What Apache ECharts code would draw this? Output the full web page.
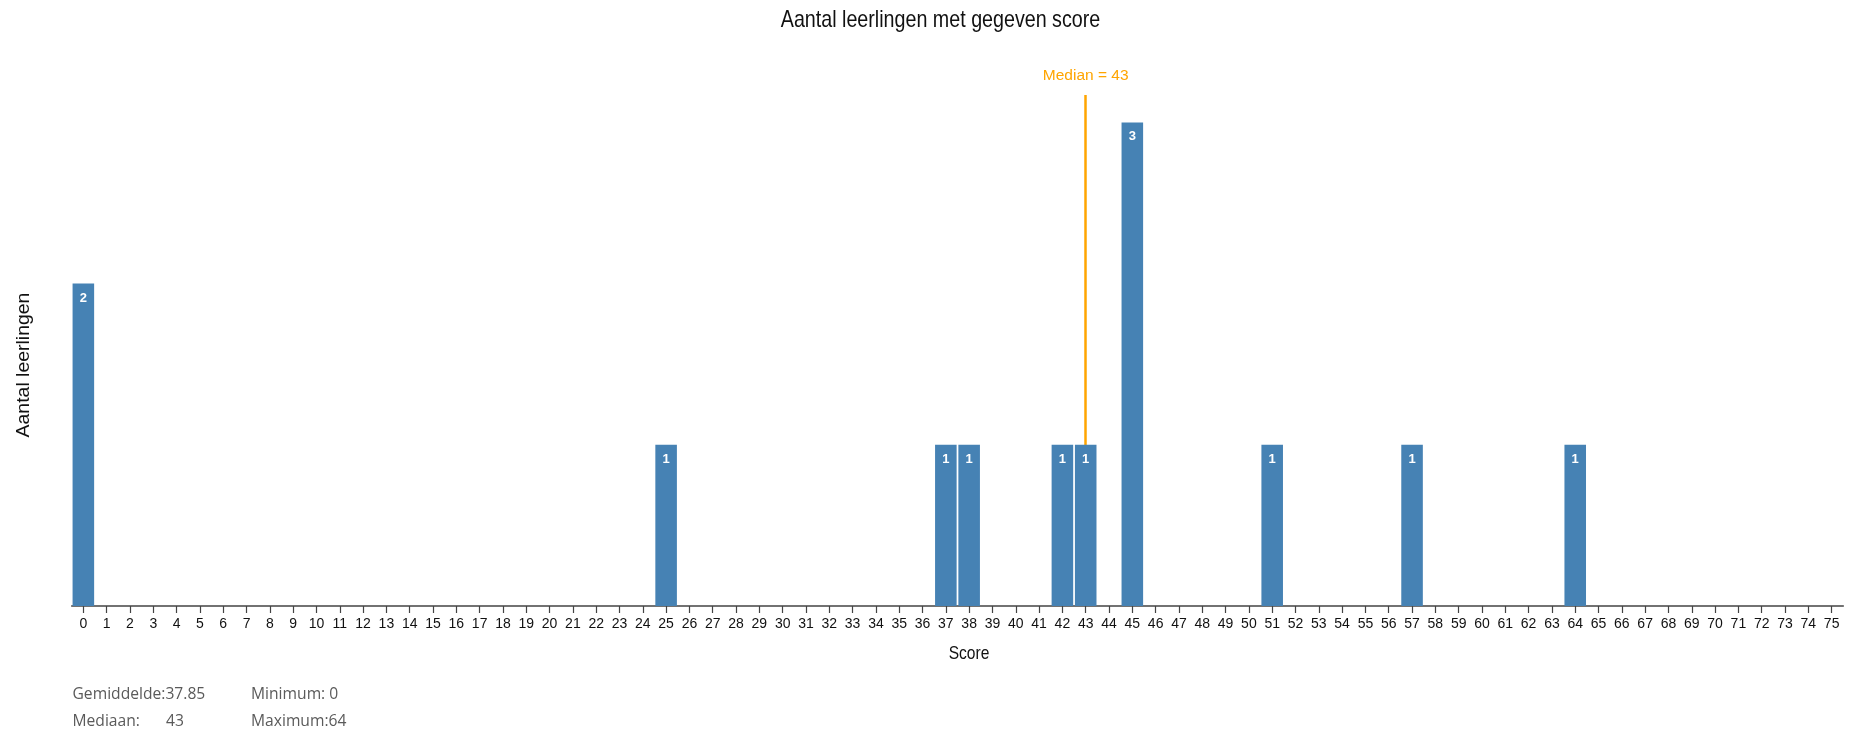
<!DOCTYPE html>
<html>
<head>
<meta charset="utf-8">
<script src="https://cdn.jsdelivr.net/npm/echarts@6/dist/echarts.min.js"></script>
<style>
  html, body { margin: 0; padding: 0; background: #fff; }
  #chart { width: 1865px; height: 734px; }
</style>
</head>
<body>
<div id="chart"></div>
<script>
// Scores 0..75 on the x axis
const scores = [
  '0','1','2','3','4','5','6','7','8','9','10','11','12','13','14','15','16','17','18','19',
  '20','21','22','23','24','25','26','27','28','29','30','31','32','33','34','35','36','37','38','39',
  '40','41','42','43','44','45','46','47','48','49','50','51','52','53','54','55','56','57','58','59',
  '60','61','62','63','64','65','66','67','68','69','70','71','72','73','74','75'
];

// Number of students per score
const studentCounts = [
  2,0,0,0,0,0,0,0,0,0,0,0,0,0,0,0,0,0,0,0,
  0,0,0,0,0,1,0,0,0,0,0,0,0,0,0,0,0,1,1,0,
  0,0,1,1,0,3,0,0,0,0,0,1,0,0,0,0,0,1,0,0,
  0,0,0,0,1,0,0,0,0,0,0,0,0,0,0,0
];

const titleText = 'Aantal leerlingen met gegeven score';
const xAxisTitle = 'Score';
const yAxisTitle = 'Aantal leerlingen';

// Summary statistics over all individual scores
const allScores = [];
studentCounts.forEach((c, i) => { for (let k = 0; k < c; k++) allScores.push(Number(scores[i])); });
allScores.sort((a, b) => a - b);
const n = allScores.length;
const mean = allScores.reduce((s, v) => s + v, 0) / n;
const median = n % 2 ? allScores[(n - 1) / 2] : (allScores[n / 2 - 1] + allScores[n / 2]) / 2;
const minimum = allScores[0];
const maximum = allScores[n - 1];

const SANS = "'Liberation Sans', Arial, sans-serif";
const STATS_FONT = "'Open Sans', 'Noto Sans', sans-serif";
const ORANGE = '#ffa500';

const chart = echarts.init(document.getElementById('chart'), null, { renderer: 'canvas' });

const statStyle = { fontFamily: STATS_FONT, fontSize: 17, fill: '#5a5a5a' };
function statText(x, y, text) {
  return { type: 'text', x: x, y: y, scaleX: 0.92, style: Object.assign({ text: text, verticalAlign: 'middle' }, statStyle), silent: true };
}

chart.setOption({
  animation: false,
  backgroundColor: '#ffffff',
  // value axis runs a little past the tallest bar so the median line rises above it
  grid: { left: 71.7, right: 21.7, top: 95, bottom: 128, containLabel: false },
  xAxis: {
    type: 'category',
    data: scores,
    boundaryGap: true,
    axisLine: { show: true, lineStyle: { color: '#444', width: 1.5 } },
    axisTick: { show: true, alignWithLabel: true, length: 7, lineStyle: { color: '#444', width: 1.2 } },
    axisLabel: { interval: 0, margin: 11, color: '#111', fontFamily: SANS, fontSize: 14 },
    splitLine: { show: false }
  },
  yAxis: {
    type: 'value',
    min: 0,
    max: 3.17,
    show: false
  },
  graphic: [
    {
      type: 'text', x: 940.5, y: 20, scaleX: 0.82, silent: true,
      style: { text: titleText, fontFamily: SANS, fontSize: 24, fill: '#111', align: 'center', verticalAlign: 'middle' }
    },
    {
      type: 'text', x: 969, y: 654, scaleX: 0.82, silent: true,
      style: { text: xAxisTitle, fontFamily: SANS, fontSize: 19, fill: '#111', align: 'center', verticalAlign: 'middle' }
    },
    {
      type: 'text', x: 24, y: 365, rotation: Math.PI / 2, scaleX: 1.08, silent: true,
      style: { text: yAxisTitle, fontFamily: SANS, fontSize: 18, fill: '#111', align: 'center', verticalAlign: 'middle' }
    },
    statText(72.5, 694, 'Gemiddelde:' + mean.toFixed(2)),
    statText(72.5, 721, 'Mediaan:'),
    statText(166, 721, String(median)),
    statText(251, 694, 'Minimum: ' + minimum),
    statText(251, 721, 'Maximum:' + maximum)
  ],
  series: [
    {
      type: 'bar',
      data: studentCounts,
      barWidth: '92.5%',
      z: 2,
      itemStyle: { color: '#4682b4' },
      emphasis: { disabled: true },
      label: {
        show: true,
        position: 'insideTop',
        distance: 8,
        color: '#ffffff',
        fontFamily: SANS,
        fontWeight: 'bold',
        fontSize: 13,
        formatter: p => (p.value > 0 ? String(p.value) : '')
      },
      markLine: {
        silent: true,
        z: 1,
        symbol: ['none', 'none'],
        animation: false,
        lineStyle: { color: ORANGE, width: 2.5, type: 'solid' },
        label: {
          show: true,
          position: 'end',
          distance: 11,
          color: ORANGE,
          fontFamily: SANS,
          fontSize: 15.5,
          formatter: 'Median = ' + median
        },
        data: [{ xAxis: String(median) }]
      }
    }
  ]
});
</script>
</body>
</html>
